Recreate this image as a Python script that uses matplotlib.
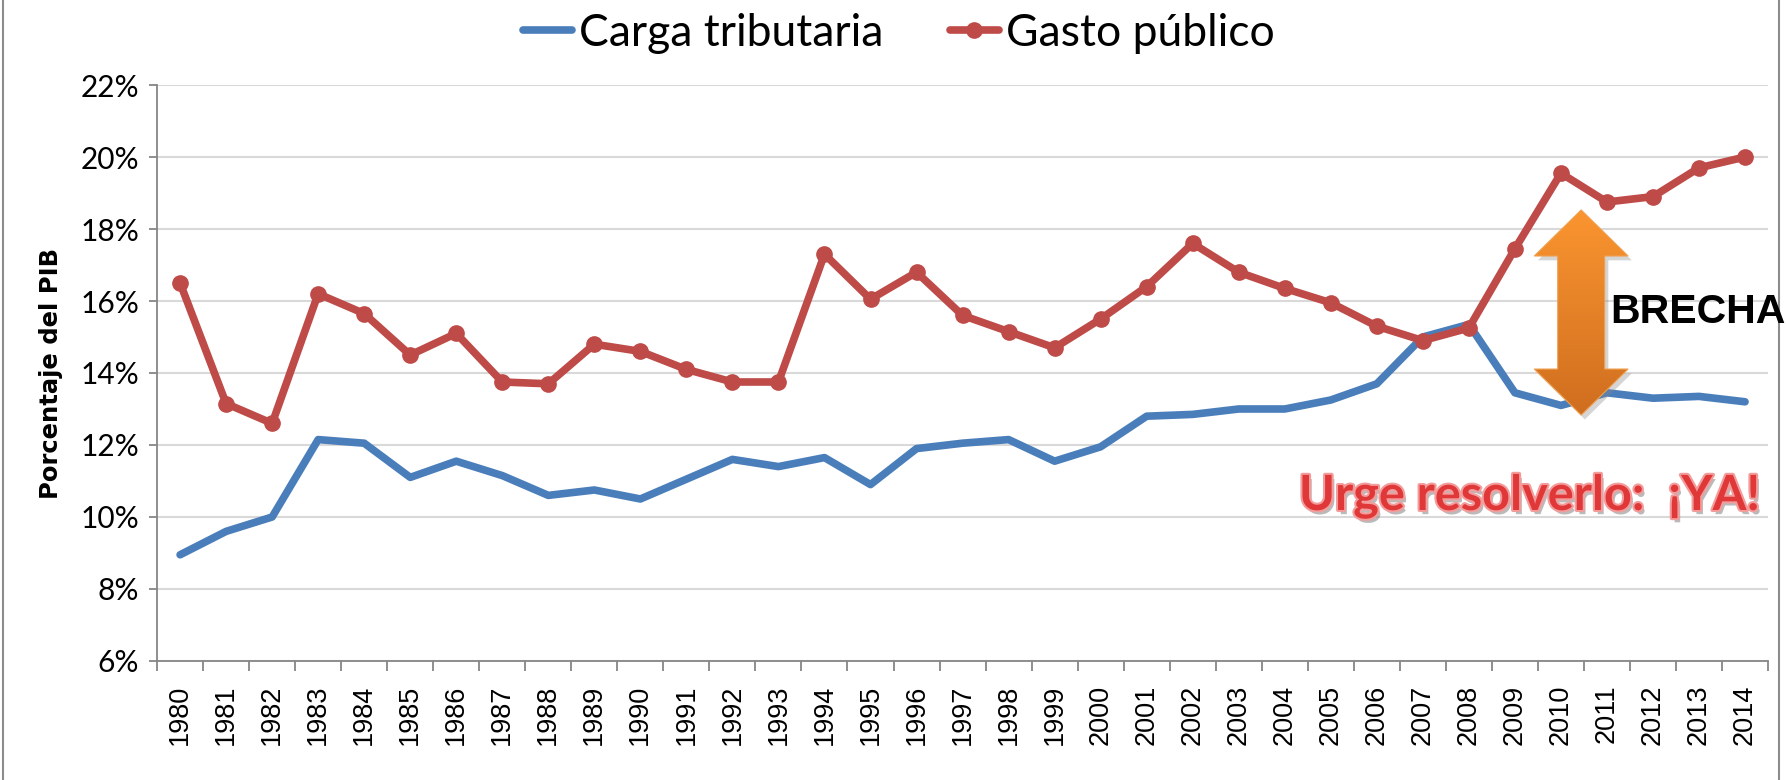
import numpy as np
import matplotlib
matplotlib.use("Agg")
import matplotlib.pyplot as plt
from matplotlib.patches import Polygon, Rectangle
import matplotlib.patheffects as pe

# datos (% del PIB)
anios = list(range(1980, 2015))
carga = [8.95, 9.6, 10.0, 12.15, 12.05, 11.1, 11.55, 11.15, 10.6, 10.75,
         10.5, 11.05, 11.6, 11.4, 11.65, 10.9, 11.9, 12.05, 12.15, 11.55,
         11.95, 12.8, 12.85, 13.0, 13.0, 13.25, 13.7, 15.0, 15.35, 13.45,
         13.1, 13.45, 13.3, 13.35, 13.2]
gasto = [16.5, 13.15, 12.6, 16.2, 15.65, 14.5, 15.1, 13.75, 13.7, 14.8,
         14.6, 14.1, 13.75, 13.75, 17.3, 16.05, 16.8, 15.6, 15.15, 14.7,
         15.5, 16.4, 17.6, 16.8, 16.35, 15.95, 15.3, 14.9, 15.25, 17.45,
         19.55, 18.75, 18.9, 19.7, 20.0]
yticks = [6, 8, 10, 12, 14, 16, 18, 20, 22]

AZUL = "#4A7EBB"
ROJO = "#BE4B48"

fig = plt.figure(figsize=(17.87, 7.80), dpi=100)
ax = fig.add_axes([0.0879, 0.1526, 0.9015, 0.7384])

ax.plot(anios, carga, color=AZUL, lw=5.5, solid_capstyle="round",
        label="Carga tributaria", zorder=3)
ax.plot(anios, gasto, color=ROJO, lw=5.5, marker="o", ms=11,
        solid_capstyle="round", label="Gasto público", zorder=4)

ax.set_xlim(1979.5, 2014.5)
ax.set_ylim(6, 22)
ax.set_yticks(yticks)
ax.set_yticklabels([f"{v}%" for v in yticks], family=["Lato", "DejaVu Sans"], fontsize=21.5)
ax.set_xticks(anios)
ax.set_xticklabels([str(a) for a in anios], rotation=90,
                   family=["Liberation Sans", "DejaVu Sans"], fontsize=19.5)
ax.set_xticks(np.arange(1979.5, 2015, 1), minor=True)
ax.tick_params(axis="x", which="major", length=0, pad=17)
ax.tick_params(axis="x", which="minor", length=7, color="#868686", width=1.3)
ax.tick_params(axis="y", length=6, color="#868686", width=1.3, pad=7)
ax.grid(axis="y", color="#D9D9D9", lw=1.5, zorder=0)
ax.set_axisbelow(True)
for s in ["top", "right"]:
    ax.spines[s].set_visible(False)
for s in ["left", "bottom"]:
    ax.spines[s].set_color("#868686")
    ax.spines[s].set_linewidth(1.3)

ax.set_ylabel("Porcentaje del PIB", fontsize=17.5, fontweight="bold", labelpad=12)

leg = fig.legend(loc="upper center", bbox_to_anchor=(0.503, 1.035), ncol=2, frameon=False,
                 prop={"family": ["Lato", "DejaVu Sans"], "size": 32},
                 handlelength=1.1, handletextpad=0.15, columnspacing=1.5)

# flecha "BRECHA" con degradado
xc, y_arriba, y_abajo = 2010.44, 18.53, 12.83
cabeza, medio_cab, medio_eje = 1.28, 1.02, 0.51
pts = [(xc, y_arriba), (xc + medio_cab, y_arriba - cabeza), (xc + medio_eje, y_arriba - cabeza),
       (xc + medio_eje, y_abajo + cabeza), (xc + medio_cab, y_abajo + cabeza), (xc, y_abajo),
       (xc - medio_cab, y_abajo + cabeza), (xc - medio_eje, y_abajo + cabeza),
       (xc - medio_eje, y_arriba - cabeza), (xc - medio_cab, y_arriba - cabeza)]
sombra = Polygon([(x + 0.08, y - 0.12) for x, y in pts], closed=True, facecolor="#888888",
                 alpha=0.35, edgecolor="none", zorder=5)
ax.add_patch(sombra)
flecha = Polygon(pts, closed=True, facecolor="none", edgecolor="#F0A050", lw=0.8, zorder=7)
ax.add_patch(flecha)
grad = np.linspace(0, 1, 256).reshape(-1, 1)
cmap = matplotlib.colors.LinearSegmentedColormap.from_list("nar", ["#FB9530", "#CF6E1F"])
img = ax.imshow(grad, cmap=cmap, aspect="auto", zorder=6,
                extent=[xc - medio_cab, xc + medio_cab, y_abajo, y_arriba], origin="upper")
img.set_clip_path(flecha)
ax.set_xlim(1979.5, 2014.5)
ax.set_ylim(6, 22)

fig.text(1610 / 1787, 1 - 312 / 780, "BRECHA", fontsize=29.5, fontweight="bold",
         family=["Liberation Sans", "DejaVu Sans"], color="black",
         ha="left", va="center", zorder=10)

fig.text(1299 / 1787, 1 - 510 / 780, "Urge resolverlo:  ¡YA!", fontsize=35, fontweight="bold",
         family=["Lato", "DejaVu Sans"], color="#E03838",
         ha="left", va="baseline", zorder=10,
         path_effects=[pe.SimplePatchShadow(offset=(2, -3), shadow_rgbFace="#777777", alpha=0.5),
                       pe.Stroke(linewidth=3, foreground="#F39C9C"), pe.Normal()])

# borde del grafico
fig.patches.append(Rectangle((3.4 / 1787, -0.01), 1776 / 1787, 1.02, transform=fig.transFigure,
                             fill=False, edgecolor="#8C8C8C", lw=1.5))

fig.savefig("out.png", dpi=100)
